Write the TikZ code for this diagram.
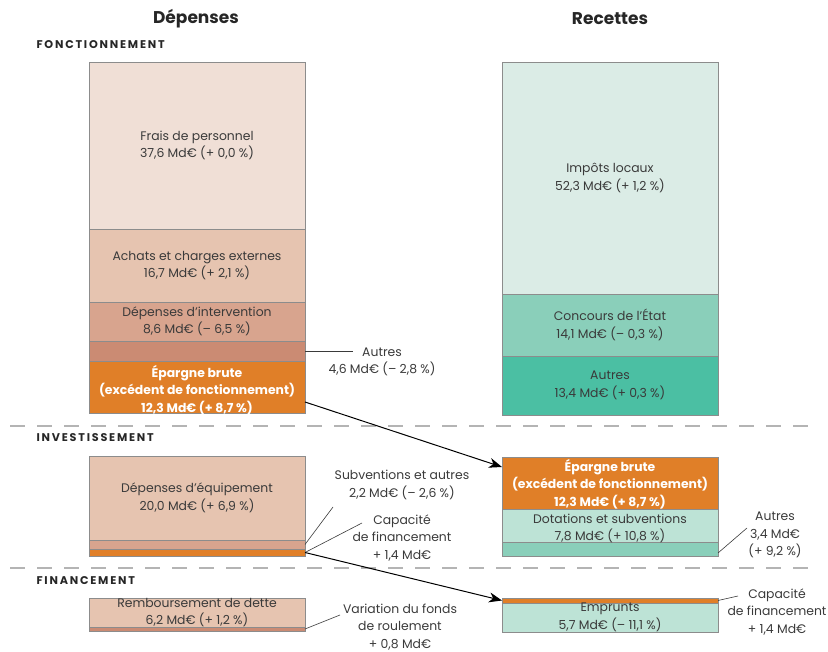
\documentclass[tikz,border=0pt]{standalone}
\usepackage{fontspec}
\setmainfont{Poppins}
\usepackage{xcolor}
\usepackage{tikz}
\usetikzlibrary{arrows.meta}

\definecolor{ink}{HTML}{3A3A3A}
\definecolor{frame}{HTML}{8C8C8C}
\definecolor{rule}{HTML}{B4B4B4}
\definecolor{cFrais}{HTML}{F0DFD6}
\definecolor{cAchat}{HTML}{E6C4B0}
\definecolor{cInterv}{HTML}{D8A48E}
\definecolor{cAutre}{HTML}{CB8B73}
\definecolor{cOrange}{HTML}{E07F28}
\definecolor{cImpot}{HTML}{DBECE6}
\definecolor{cConc}{HTML}{8ACFBA}
\definecolor{cAutreR}{HTML}{4BBFA3}
\definecolor{cDot}{HTML}{BDE3D6}

\begin{document}
\begin{tikzpicture}[x=1pt,y=-1pt,
    blk/.style={draw=frame,line width=0.8pt,minimum width=216pt,
      anchor=north west,inner sep=0pt,outer sep=0pt},
    txt/.style={align=center,text=ink,inner sep=0pt,
      font=\fontsize{12.4}{17.6}\selectfont},
    btxt/.style={txt,text=white,font=\fontsize{12.4}{17.6}\selectfont\bfseries},
    title/.style={text=black!85,font=\fontsize{17}{20}\selectfont\bfseries},
    section/.style={anchor=west,text=black!85,
      font=\fontsize{11.2}{12}\selectfont\bfseries\addfontfeatures{LetterSpace=16}},
    sep/.style={draw=rule,line width=1.8pt,dash pattern=on 15pt off 12pt},
    lead/.style={draw=ink,line width=0.6pt},
    arr/.style={draw=black,line width=1pt,-{Stealth[length=13pt,width=10pt,inset=4pt]}}]
    \useasboundingbox (0,0) rectangle (828,652);
    %
    \node[title] (dep) at (196,19) {Dépenses};
    \node[title] (rec) at (610,19) {Recettes};
    \node[section] (fonct) at (33,45) {FONCTIONNEMENT};
    \node[section] (invest) at (33,438) {INVESTISSEMENT};
    \node[section] (finan) at (33,581) {FINANCEMENT};
    \draw[sep] (10,426) -- (810,426);
    \draw[sep] (10,568) -- (810,568);
    %
    % depenses
    \node[blk,fill=cFrais,minimum height=167pt] (frais) at (89,62) {};
    \node[blk,fill=cAchat,minimum height=73pt] (achats) at (89,229) {};
    \node[blk,fill=cInterv,minimum height=39pt] (interv) at (89,302) {};
    \node[blk,fill=cAutre,minimum height=20pt] (autresF) at (89,341) {};
    \node[blk,fill=cOrange,minimum height=52pt] (epargF) at (89,361) {};
    \node[blk,fill=cAchat,minimum height=84pt] (equip) at (89,456) {};
    \node[blk,fill=cInterv,minimum height=9pt] (subv) at (89,540) {};
    \node[blk,fill=cOrange,minimum height=7pt] (capI) at (89,549) {};
    \node[blk,fill=cAchat,minimum height=29pt] (rembt) at (89,598) {};
    \node[blk,fill=cAutre,minimum height=4pt] (varfr) at (89,627) {};
    %
    % recettes
    \node[blk,fill=cImpot,minimum height=232pt] (impots) at (502,62) {};
    \node[blk,fill=cConc,minimum height=62pt] (concours) at (502,294) {};
    \node[blk,fill=cAutreR,minimum height=59pt] (autresR) at (502,356) {};
    \node[blk,fill=cOrange,minimum height=52pt] (epargR) at (502,457) {};
    \node[blk,fill=cDot,minimum height=33pt] (dotat) at (502,509) {};
    \node[blk,fill=cConc,minimum height=14pt] (autresI) at (502,542) {};
    \node[blk,fill=cOrange,minimum height=5pt] (capF) at (502,598) {};
    \node[blk,fill=cDot,minimum height=29pt] (emprunt) at (502,603) {};
    %
    % texts in the blocks
    \node[txt] (fraisT) at (frais) {Frais de personnel\\37,6 Md€ (+ 0,0 \%)};
    \node[txt] (achatsT) at (achats) {Achats et charges externes\\16,7 Md€ (+ 2,1 \%)};
    \node[txt] (intervT) at (interv) {Dépenses d’intervention\\8,6 Md€ (– 6,5 \%)};
    \node[btxt] (epargFT) at ([yshift=-3pt]epargF.center) {Épargne brute\\(excédent de fonctionnement)\\12,3 Md€ (+ 8,7 \%)};
    \node[txt] (equipT) at (equip) {Dépenses d’équipement\\20,0 Md€ (+ 6,9 \%)};
    \node[txt] (rembtT) at (rembt) {Remboursement de dette\\6,2 Md€ (+ 1,2 \%)};
    \node[txt] (impotsT) at (impots) {Impôts locaux\\52,3 Md€ (+ 1,2 \%)};
    \node[txt] (concoursT) at (concours) {Concours de l’État\\14,1 Md€ (– 0,3 \%)};
    \node[txt] (autresRT) at (autresR) {Autres\\13,4 Md€ (+ 0,3 \%)};
    \node[btxt] (epargRT) at ([yshift=-1pt]epargR.center) {Épargne brute\\(excédent de fonctionnement)\\12,3 Md€ (+ 8,7 \%)};
    \node[txt] (dotatT) at ([yshift=-3pt]dotat.center) {Dotations et subventions\\7,8 Md€ (+ 10,8 \%)};
    \node[txt] (empruntT) at (emprunt) {Emprunts\\5,7 Md€ (– 11,1 \%)};
    %
    % side labels
    \node[txt] (autresFL) at (382,362) {Autres\\4,6 Md€ (– 2,8 \%)};
    \node[txt] (subvL) at (402,485) {Subventions et autres\\2,2 Md€ (– 2,6 \%)};
    \node[txt] (capIL) at (402,538) {Capacité\\de financement\\+ 1,4 Md€};
    \node[txt] (varL) at (400,627) {Variation du fonds\\de roulement\\+ 0,8 Md€};
    \node[txt] (autresIL) at (775,535) {Autres\\3,4 Md€\\(+ 9,2 \%)};
    \node[txt] (capFL) at (777,612) {Capacité\\de financement\\+ 1,4 Md€};
    \coordinate (autresFE) at (353,351);
    \coordinate (subvE) at (333,507);
    \coordinate (capIE) at (362,523);
    \coordinate (varE) at (340,615);
    \coordinate (autresIE) at (747,528);
    \coordinate (capFE) at (738,596);
    \draw[lead] (autresF.east) -- (autresFE);
    \draw[lead] (subv.east) -- (subvE);
    \draw[lead] (capI.east) -- (capIE);
    \draw[lead] (varfr.east) -- (varE);
    \draw[lead] ([yshift=-4pt]autresI.east) -- (autresIE);
    \draw[lead] (capF.east) -- (capFE);
    %
    % flows
    \draw[arr] ([yshift=-15pt]epargF.east) -- ([yshift=-10pt]epargR.north west);
    \draw[arr] (capI.east) -- (capF.west);
  \end{tikzpicture}
\end{document}
